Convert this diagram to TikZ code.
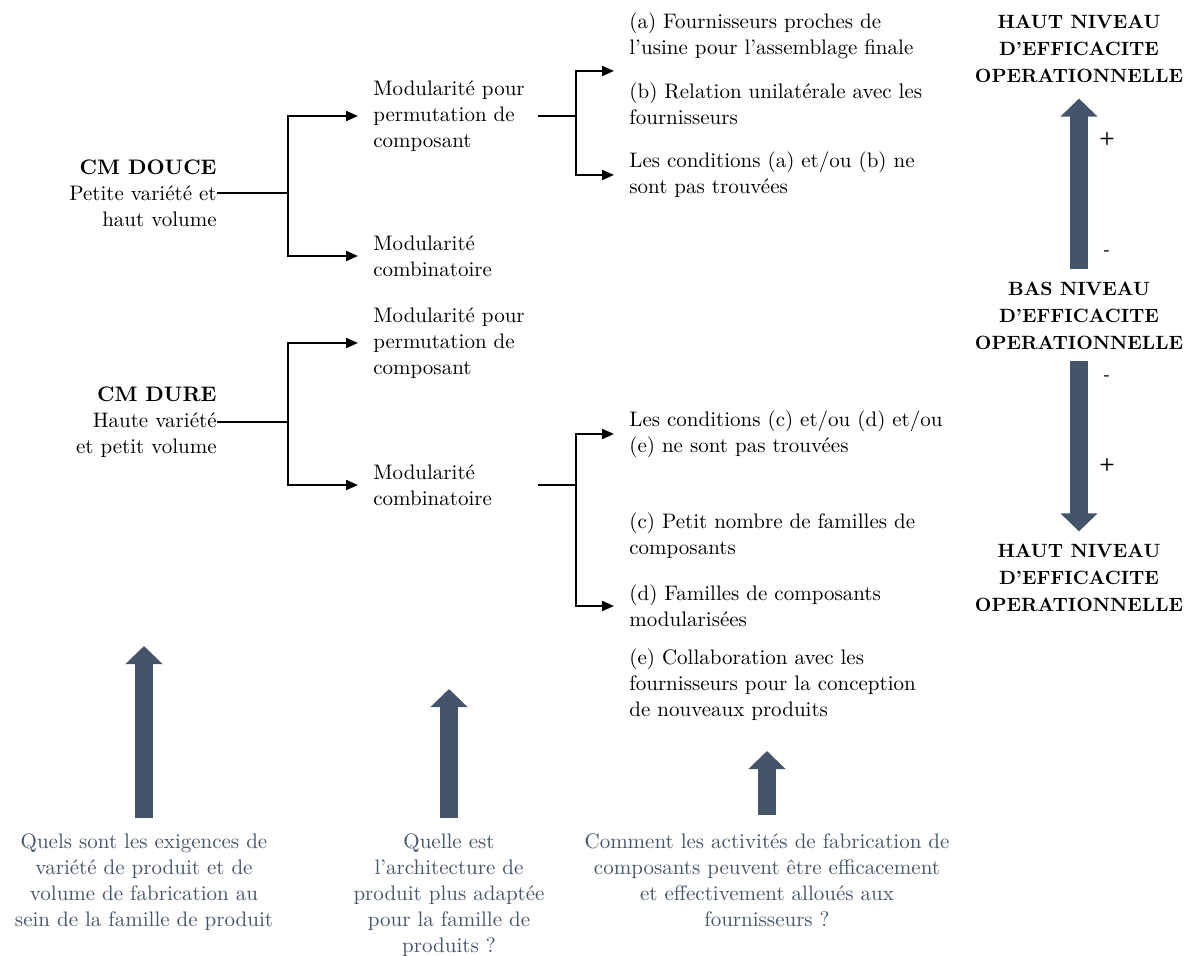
\documentclass[tikz,border=0pt]{standalone}
\usepackage{fontspec}
\usetikzlibrary{arrows.meta,positioning}
\definecolor{slate}{HTML}{44546A}
\tikzset{
  txt/.style={inner sep=0pt,align=left,font=\fontsize{10.5}{13}\selectfont},
  tree/.style={line width=1pt},
  tip/.style={-{Triangle[length=6pt,width=5pt]},shorten >=7.5pt},
  level/.style={inner sep=0pt,align=center,font=\fontsize{9.6}{13.7}\selectfont\bfseries},
  bigarrow/.style={draw=slate,line width=9pt,-{Triangle[length=9pt,width=18pt]}},
  sign/.style={inner sep=0pt,font=\sffamily\bfseries\small},
  question/.style={inner sep=0pt,align=center,text=slate,font=\fontsize{10.5}{13}\selectfont}
}
\begin{document}
\begin{tikzpicture}[x=0.5pt,y=-0.5pt]
    \useasboundingbox (0,0) rectangle (1192,956);

    \node[txt,anchor=east,align=right] (douce) at (217,193) {\textbf{CM DOUCE}\\Petite variété et\\haut volume};
    \node[txt,anchor=west] (perm1) at (373,116) {Modularité pour\\permutation de\\composant};
    \node[txt,anchor=west] (comb1) at (373,256) {Modularité\\combinatoire};
    \node[txt,anchor=west] (fa)  at (629,36)  {(a) Fournisseurs proches de\\l’usine pour l’assemblage finale};
    \node[txt,anchor=west] (fb)  at (629,104) {(b) Relation unilatérale avec les\\fournisseurs};
    \node[txt,anchor=west] (cab) at (629,175) {Les conditions (a) et/ou (b) ne\\sont pas trouvées};
    \coordinate (j1) at (288,193);
    \coordinate (j2) at (576,116);
    \coordinate (ta) at (629,71);

    \draw[tree] (douce.east) -- (j1);
    \draw[tree,tip] (j1) |- (perm1.west);
    \draw[tree,tip] (j1) |- (comb1.west);
    \draw[tree,shorten <=6.5pt] (perm1.east) -- (j2);
    \draw[tree,tip] (j2) |- (ta);
    \draw[tree,tip] (j2) |- (cab.west);

    \node[txt,anchor=east,align=right] (dure) at (217,422) {\textbf{CM DURE}\\Haute variété\\et petit volume};
    \node[txt,anchor=west] (perm2) at (373,343) {Modularité pour\\permutation de\\composant};
    \node[txt,anchor=west] (comb2) at (373,485) {Modularité\\combinatoire};
    \node[txt,anchor=west] (ccde) at (629,434) {Les conditions (c) et/ou (d) et/ou\\(e) ne sont pas trouvées};
    \node[txt,anchor=west] (fc)   at (629,536) {(c) Petit nombre de familles de\\composants};
    \node[txt,anchor=west] (fd)   at (629,606) {(d) Familles de composants\\modularisées};
    \node[txt,anchor=west] (fe)   at (629,685) {(e) Collaboration avec les\\fournisseurs pour la conception\\de nouveaux produits};
    \coordinate (j3) at (288,422);
    \coordinate (j4) at (576,485);

    \draw[tree] (dure.east) -- (j3);
    \draw[tree,tip] (j3) |- (perm2.west);
    \draw[tree,tip] (j3) |- (comb2.west);
    \draw[tree,shorten <=23pt] (comb2.east) -- (j4);
    \draw[tree,tip] (j4) |- (ccde.west);
    \draw[tree,tip] (j4) |- (fd.west);

    \node[level] (haut1) at (1079,49)  {HAUT NIVEAU\\D’EFFICACITE\\OPERATIONNELLE};
    \node[level] (bas)   at (1079,316) {BAS NIVEAU\\D’EFFICACITE\\OPERATIONNELLE};
    \node[level] (haut2) at (1079,578) {HAUT NIVEAU\\D’EFFICACITE\\OPERATIONNELLE};
    \draw[bigarrow,shorten <=6pt,shorten >=7.5pt] (bas.north) -- (haut1.south);
    \draw[bigarrow,shorten <=5pt,shorten >=6pt] (bas.south) -- (haut2.north);
    \node[sign] (plus1)  at (1107,139) {+};
    \node[sign] (minus1) at (1107,253) {-};
    \node[sign] (minus2) at (1107,378) {-};
    \node[sign] (plus2)  at (1107,465) {+};

    \node[question,anchor=north] (q1) at (144,833) {Quels sont les exigences de\\variété de produit et de\\volume de fabrication au\\sein de la famille de produit};
    \node[question,anchor=north] (q2) at (449,833) {Quelle est\\l’architecture de\\produit plus adaptée\\pour la famille de\\produits ?};
    \node[question,anchor=north] (q3) at (767,833) {Comment les activités de fabrication de\\composants peuvent être efficacement\\et effectivement alloués aux\\fournisseurs ?};
    \coordinate (u1) at (144,646);
    \coordinate (u2) at (449,689);
    \coordinate (u3) at (767,751);
    \draw[bigarrow,shorten <=7.5pt] (q1.north) -- (u1);
    \draw[bigarrow,shorten <=7.5pt] (q2.north) -- (u2);
    \draw[bigarrow,shorten <=9pt] (q3.north) -- (u3);
\end{tikzpicture}
\end{document}
